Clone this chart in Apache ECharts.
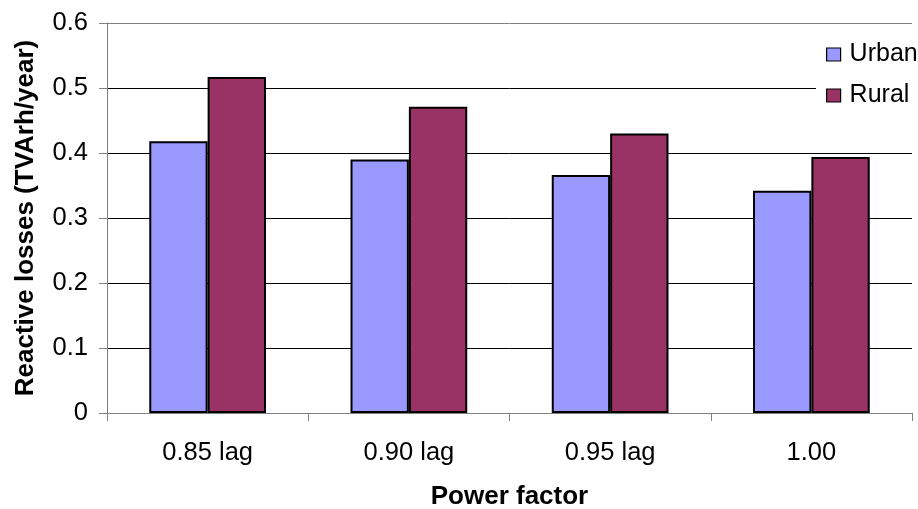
<!DOCTYPE html>
<html>
<head>
<meta charset="utf-8">
<script src="https://cdn.jsdelivr.net/npm/echarts@6/dist/echarts.min.js"></script>
<style>
  html, body { margin: 0; padding: 0; background: #fff; }
  #chart { width: 918px; height: 509px; }
</style>
</head>
<body>
<div id="chart"></div>
<script>
// Power factor categories and reactive losses per network type (TVArh/year)
const categories = ['0.85 lag', '0.90 lag', '0.95 lag', '1.00'];
const urbanLosses = [0.418, 0.390, 0.366, 0.342];
const ruralLosses = [0.517, 0.471, 0.430, 0.394];
const seriesNames = ['Urban', 'Rural'];
const seriesColors = ['#9999FF', '#993366'];

const FONT = 'Liberation Sans, Arial, sans-serif';

const chart = echarts.init(document.getElementById('chart'), null, { renderer: 'canvas' });

chart.setOption({
  animation: false,
  backgroundColor: '#ffffff',
  textStyle: { fontFamily: FONT },
  grid: { left: 107, right: 6, top: 23, bottom: 96, containLabel: false, outerBoundsMode: 'none' },
  legend: {
    data: seriesNames,
    orient: 'vertical',
    left: 816,
    top: 30,
    padding: [12, 10, 12, 10],
    backgroundColor: '#ffffff',
    icon: 'rect',
    itemWidth: 14,
    itemHeight: 13,
    itemGap: 16,
    itemStyle: { borderColor: '#000', borderWidth: 1.2 },
    textStyle: { fontFamily: FONT, fontSize: 25, color: '#000', padding: [0, 0, 0, 4] }
  },
  xAxis: {
    type: 'category',
    data: categories,
    boundaryGap: true,
    name: 'Power factor',
    nameLocation: 'middle',
    nameGap: 71,
    nameTextStyle: { fontFamily: FONT, fontSize: 26, fontWeight: 'bold', color: '#000' },
    axisLine: { lineStyle: { color: '#808080', width: 1 } },
    axisTick: { show: true, length: 8, inside: false, lineStyle: { color: '#808080' } },
    axisLabel: { fontFamily: FONT, fontSize: 25.5, color: '#000', margin: 27 },
    splitLine: { show: false }
  },
  yAxis: {
    type: 'value',
    min: 0,
    max: 0.6,
    interval: 0.1,
    name: 'Reactive losses (TVArh/year)',
    nameLocation: 'middle',
    nameGap: 68,
    nameRotate: 90,
    nameTextStyle: { fontFamily: FONT, fontSize: 26, fontWeight: 'bold', color: '#000' },
    axisLine: { show: true, lineStyle: { color: '#808080', width: 1 } },
    axisTick: { show: true, length: 8, inside: false, lineStyle: { color: '#808080' } },
    axisLabel: {
      fontFamily: FONT, fontSize: 25.5, color: '#000', margin: 19,
      formatter: v => (Math.round(v * 10) / 10).toString()
    },
    splitLine: {
      show: true,
      lineStyle: { color: ['#000', '#000', '#000', '#000', '#000', '#000', '#808080'], width: 1 }
    }
  },
  series: [
    {
      name: seriesNames[0],
      type: 'bar',
      data: urbanLosses,
      barGap: '0%',
      barCategoryGap: '42%',
      itemStyle: { color: seriesColors[0], borderColor: '#000', borderWidth: 2 }
    },
    {
      name: seriesNames[1],
      type: 'bar',
      data: ruralLosses,
      barGap: '0%',
      barCategoryGap: '42%',
      itemStyle: { color: seriesColors[1], borderColor: '#000', borderWidth: 2 }
    }
  ]
});
</script>
</body>
</html>
